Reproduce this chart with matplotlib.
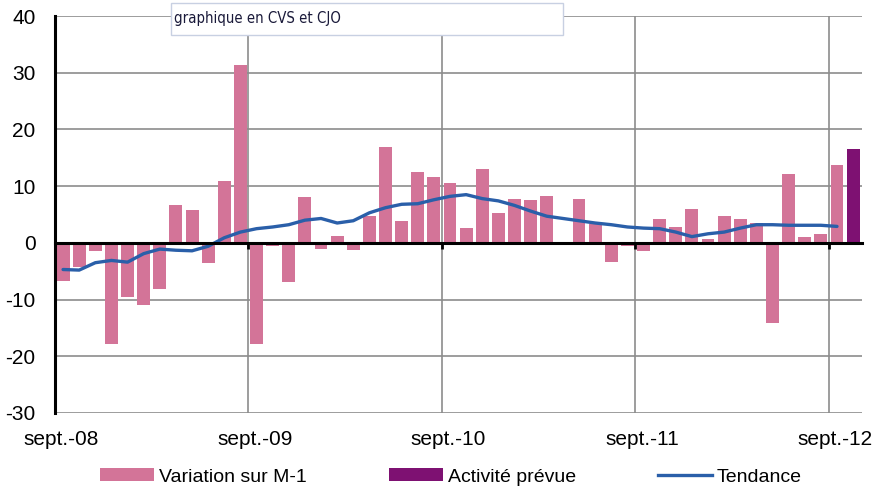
import matplotlib
matplotlib.use('Agg')
import matplotlib.pyplot as plt
from matplotlib.patches import Patch, Rectangle
from matplotlib.lines import Line2D
from matplotlib import font_manager as fm
import numpy as np

# ---- data ----
variation = [-6.8, -4.3, -1.4, -17.8, -9.6, -10.9, -8.2, 6.6, 5.8, -3.6, 10.9, 31.4,
             -17.9, -0.5, -6.9, 8.1, -1.0, 1.2, -1.2, 4.8, 16.9, 3.8, 12.5, 11.6,
             10.5, 2.6, 13.1, 5.2, 7.8, 7.6, 8.3, 0.1, 7.8, 3.4, -3.4, -0.6,
             -1.5, 4.2, 2.8, 5.9, 0.6, 4.8, 4.2, 3.5, -14.2, 12.2, 1.0, 1.6, 13.8]
activite_prevue = [16.5]
tendance = [-4.7, -4.8, -3.5, -3.1, -3.4, -1.9, -1.1, -1.3, -1.4, -0.6, 0.9, 1.9,
            2.5, 2.8, 3.2, 4.0, 4.3, 3.5, 3.9, 5.3, 6.2, 6.8, 6.9, 7.6,
            8.2, 8.5, 7.8, 7.4, 6.6, 5.6, 4.7, 4.3, 3.9, 3.5, 3.2, 2.8,
            2.6, 2.5, 1.9, 1.1, 1.6, 1.9, 2.6, 3.2, 3.2, 3.1, 3.1, 3.1, 2.9]
year_labels = ['sept.-08', 'sept.-09', 'sept.-10', 'sept.-11', 'sept.-12']
yticks = [-30, -20, -10, 0, 10, 20, 30, 40]
legend_labels = ['Variation sur M-1', 'Activité prévue', 'Tendance']
note = 'graphique en CVS et CJO'

# ---- style ----
PINK = '#D37498'
PURPLE = '#7E1172'
BLUE = '#2A5FA9'
GRID = '#8C8C8C'

# look for a regular-weight condensed / narrow font for the note
cond = None
for f in fm.fontManager.ttflist:
    nm = f.name.lower()
    st = str(f.stretch).lower()
    is_cond = ('narrow' in nm or 'condensed' in nm or 'condensed' in st
               or st in ('87.5', '75', '62.5'))
    w = f.weight if isinstance(f.weight, int) else {'normal': 400, 'regular': 400, 'book': 400}.get(str(f.weight).lower(), 700)
    if is_cond and w <= 500 and str(f.style).lower() == 'normal':
        cond = f
        break

plt.rcParams['font.family'] = ['Liberation Sans', 'DejaVu Sans']

W, H = 879, 493
fig = plt.figure(figsize=(W / 100, H / 100), dpi=100)
left, right, top, bottom = 55, 862, 16, 413
ax = fig.add_axes([left / W, 1 - bottom / H, (right - left) / W, (bottom - top) / H])

x = np.arange(len(variation))
ax.bar(x, variation, width=0.8, color=PINK, zorder=2)
xp = np.arange(len(variation), len(variation) + len(activite_prevue))
ax.bar(xp, activite_prevue, width=0.8, color=PURPLE, zorder=2)
ax.plot(np.arange(len(tendance)), tendance, color=BLUE, lw=2.4, zorder=3,
        solid_capstyle='round')

ax.set_ylim(-30, 40)
ax.set_xlim(-0.5, 49.55)
ax.set_yticks(yticks)
ax.set_yticklabels([str(v) for v in yticks], fontsize=15)
ax.tick_params(axis='y', length=0, pad=14)

year_pos = np.arange(len(year_labels)) * 12 - 0.5
ax.set_xticks(year_pos)
ax.tick_params(axis='x', labelbottom=False, direction='out', length=4, width=2,
               color='black')
ax.grid(True, color=GRID, lw=1.2, zorder=0)
ax.set_axisbelow(True)

for s in ['top', 'right']:
    ax.spines[s].set_visible(False)
ax.spines['bottom'].set_position(('data', 0))
ax.spines['bottom'].set_linewidth(2.2)
ax.spines['bottom'].set_zorder(4)
ax.spines['left'].set_linewidth(2.2)

trans = matplotlib.transforms.blended_transform_factory(ax.transData, ax.transAxes)
for p, lab in zip(year_pos, year_labels):
    ax.text(p + 0.4, -0.068, lab, transform=trans, ha='center', va='center', fontsize=15)

# note box
if cond is not None:
    note_font = fm.FontProperties(fname=cond.fname, size=13)
else:
    note_font = fm.FontProperties(family='Liberation Sans', size=13)
t = fig.text(174 / W, 1 - 19 / H, note, fontproperties=note_font, color='#1A1A3A',
             ha='left', va='center', zorder=10)
renderer = fig.canvas.get_renderer()
wpx = t.get_window_extent(renderer).width
target = 166.0
new_size = min(13.0, 13.0 * target / wpx)
note_font.set_size(new_size)
t.set_fontproperties(note_font)
fig.patches.append(Rectangle((171.5 / W, 1 - 35 / H), (563 - 171.5) / W, (35 - 3) / H,
                             transform=fig.transFigure, facecolor='white',
                             edgecolor='#C8D0E2', lw=1.0, zorder=9))

handles = [Patch(facecolor=PINK, edgecolor='none'),
           Patch(facecolor=PURPLE, edgecolor='none'),
           Line2D([], [], color=BLUE, lw=2.4)]
fig.legend(handles, legend_labels, loc='center', bbox_to_anchor=(451 / W, 1 - 477 / H),
           ncol=3, frameon=False, fontsize=14, handlelength=2.8, handleheight=0.65,
           handletextpad=0.25, columnspacing=4.2)

fig.savefig('out.png', dpi=100)
